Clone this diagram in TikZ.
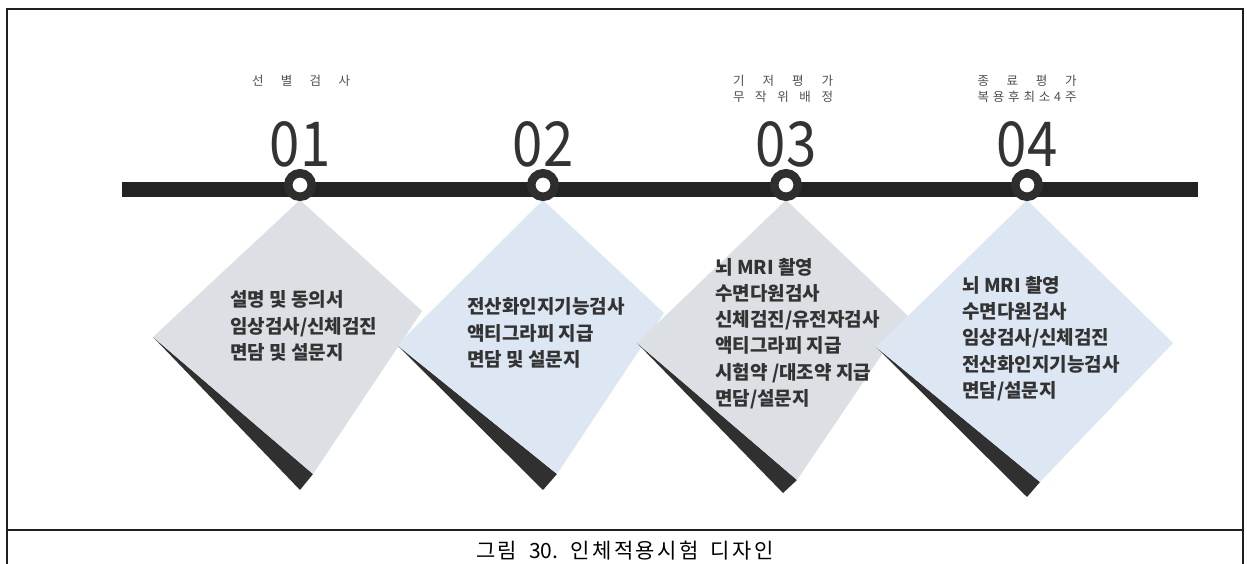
\documentclass[tikz,border=0pt]{standalone}
\usepackage{fontspec}
\setmainfont{Noto Sans CJK KR}
\newfontfamily\capfont{Noto Sans CJK KR}[LetterSpace=12]
\newfontfamily\plainkr{Noto Sans CJK KR}
\definecolor{framec}{HTML}{1E1E1E}
\definecolor{barc}{HTML}{232323}
\definecolor{ringc}{HTML}{2E2E2E}
\definecolor{numc}{HTML}{333333}
\definecolor{labc}{HTML}{4F4F4F}
\definecolor{txtc}{HTML}{333333}
\definecolor{shadc}{HTML}{303030}
\definecolor{silverc}{HTML}{DCE0E4}
\definecolor{paleblue}{HTML}{DDE7F3}
\begin{document}
\begin{tikzpicture}[x=1pt,y=-1pt,
  ring/.style={circle,draw=ringc,fill=white,line width=8.5pt,minimum size=23.5pt,inner sep=0pt},
  num/.style={anchor=base,text=numc,inner sep=0pt,font=\fontsize{62}{62}\selectfont},
  lab/.style={text=labc,inner sep=0pt,font=\fontsize{12.5}{12.5}\selectfont},
  item/.style={anchor=west,align=left,text=txtc,inner sep=0pt,font=\bfseries\fontsize{19}{26.3}\selectfont},
  shadow/.style={fill=shadc},
  silver/.style={fill=silverc},
  bluecard/.style={fill=paleblue}]
\useasboundingbox (0,0) rectangle (1247,564);
\fill[white] (0,0) rectangle (1247,564);
% frame
\draw[framec,line width=1.4pt] (7,564) -- (7,9) -- (1243,9) -- (1243,564);
\draw[framec,line width=1.4pt] (7,530) -- (1243,530);
% diamond 1
\fill[shadow] (153,337) -- (300,490) -- (313,474) -- cycle;
\fill[silver] (300,200) -- (422,311) -- (313,474) -- (153,337) -- cycle;
% diamond 2
\fill[shadow] (397,345) -- (543,490) -- (557,474) -- cycle;
\fill[bluecard] (543,200) -- (664,313) -- (557,474) -- (397,345) -- cycle;
% diamond 3
\fill[shadow] (637,343) -- (783,493) -- (797,480) -- cycle;
\fill[silver] (786,200) -- (908,316) -- (797,480) -- (637,343) -- cycle;
% diamond 4
\fill[shadow] (876,347) -- (1027,497) -- (1040,482) -- cycle;
\fill[bluecard] (1027,200) -- (1173,343) -- (1040,482) -- (876,347) -- cycle;
% timeline bar
\coordinate (barL) at (122,189.5);
\coordinate (barR) at (1198,189.5);
\draw[barc,line width=15pt] (barL) -- (barR);
% pins
\node[ring] (p1) at (300,185) {};
\node[ring] (p2) at (543,185) {};
\node[ring] (p3) at (786,185) {};
\node[ring] (p4) at (1027,185) {};
% numbers
\node[num] (n1) at (300,167) {\scalebox{0.88}[1]{01}};
\node[num] (n2) at (543,167) {\scalebox{0.88}[1]{02}};
\node[num] (n3) at (786,167) {\scalebox{0.88}[1]{03}};
\node[num] (n4) at (1027,167) {\scalebox{0.88}[1]{04}};
% labels above
\node[lab] (l1) at (301,81) {\makebox[98pt][s]{선\hfill 별\hfill 검\hfill 사}};
\node[lab] (l3a) at (783,81) {\makebox[100pt][s]{기\hfill 저\hfill 평\hfill 가}};
\node[lab] (l3b) at (783,97) {\makebox[100pt][s]{무\hfill 작\hfill 위\hfill 배\hfill 정}};
\node[lab] (l4a) at (1027,81) {\makebox[99pt][s]{종\hfill 료\hfill 평\hfill 가}};
\node[lab] (l4b) at (1027,97) {\makebox[99pt][s]{복\hfill 용\hfill 후\hfill 최\hfill 소\hfill 4\hfill 주}};
% card texts
\node[item] (t1) at (230,326) {설명 및 동의서\\임상검사/신체검진\\면담 및 설문지};
\node[item] (t2) at (467,333) {전산화인지기능검사\\액티그라피 지급\\면담 및 설문지};
\node[item] (t3) at (715,333.5) {뇌 MRI 촬영\\수면다원검사\\신체검진/유전자검사\\액티그라피 지급\\시험약 /대조약 지급\\면담/설문지};
\node[item] (t4) at (962,338.5) {뇌 MRI 촬영\\수면다원검사\\임상검사/신체검진\\전산화인지기능검사\\면담/설문지};
% caption
\node[inner sep=0pt,text=black,font=\capfont\fontsize{21}{21}\selectfont] (cap) at (625,551) {그림\hspace{12pt}{\plainkr 30.}\hspace{12pt}인체적용시험\hspace{12pt}디자인};
\end{tikzpicture}
\end{document}
